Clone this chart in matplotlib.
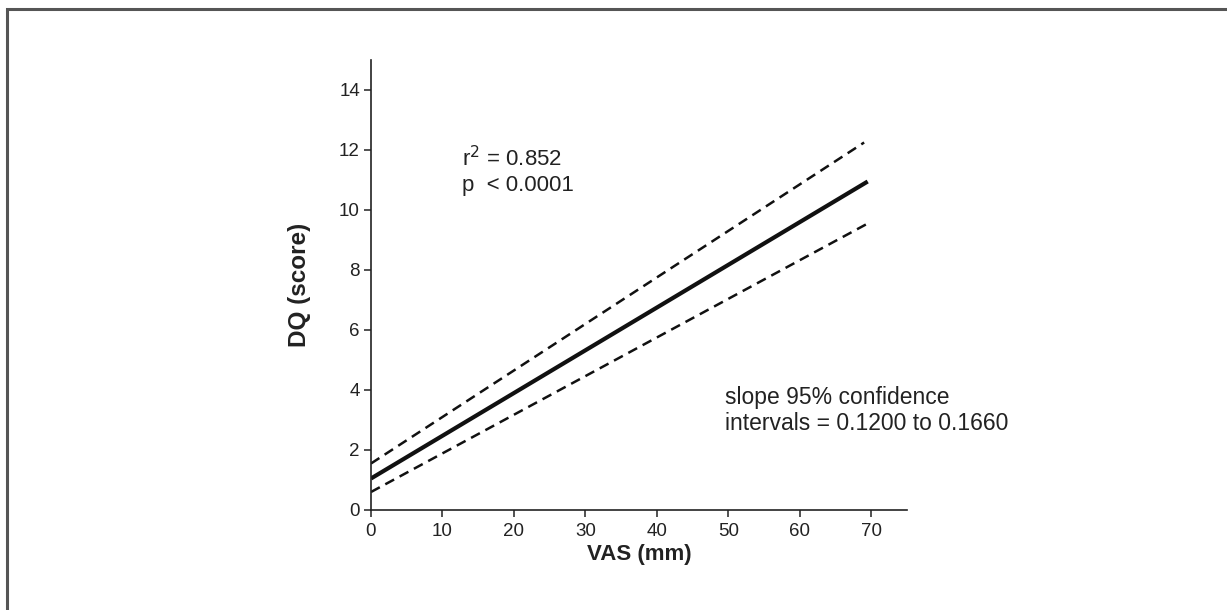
import matplotlib
matplotlib.use("Agg")
import matplotlib.pyplot as plt
from matplotlib.patches import Rectangle

plt.rcParams['font.family'] = ['Liberation Sans', 'DejaVu Sans']

# Data
fit_x = [0, 69.5]
fit_y = [1.05, 10.95]
upper_x = [0, 69.0]
upper_y = [1.55, 12.25]
lower_x = [0, 69.5]
lower_y = [0.6, 9.55]
x_ticks = [0, 10, 20, 30, 40, 50, 60, 70]
y_ticks = [0, 2, 4, 6, 8, 10, 12, 14]

fig = plt.figure(figsize=(12.27, 6.10), dpi=100)
# outer frame
fig.patches.append(Rectangle((7/1227, -0.05), 1.1, (610-9)/610 + 0.05, transform=fig.transFigure,
                             fill=False, edgecolor='#555555', linewidth=2.2))

ax = fig.add_axes([371/1227, 100/610, (907-371)/1227, (510-60)/610])
ax.plot(fit_x, fit_y, color='#111111', linewidth=3.0, solid_capstyle='butt')
ax.plot(upper_x, upper_y, color='#111111', linewidth=1.8, dashes=(4, 2.5))
ax.plot(lower_x, lower_y, color='#111111', linewidth=1.8, dashes=(4, 2.5))

ax.set_xlim(0, 75)
ax.set_ylim(0, 15)
ax.set_xticks(x_ticks)
ax.set_yticks(y_ticks)
ax.spines['top'].set_visible(False)
ax.spines['right'].set_visible(False)
for s in ['left', 'bottom']:
    ax.spines[s].set_linewidth(1.2)
    ax.spines[s].set_color('#222222')
ax.tick_params(direction='out', length=5, width=1.1, labelsize=13.5, colors='#222222')
ax.tick_params(axis='x', pad=4)
ax.tick_params(axis='y', pad=3)
ax.set_xlabel('VAS (mm)', fontsize=16, fontweight='bold', labelpad=3, color='#222222')
ax.set_ylabel('DQ (score)', fontsize=17.5, fontweight='bold', labelpad=20, color='#222222')

ax.text(12.8, 11.72, r'r$^2$ = 0.852', fontsize=16, color='#222222', va='center')
ax.text(12.8, 10.8, 'p  < 0.0001', fontsize=16, color='#222222', va='center')
ax.text(49.6, 3.75, 'slope 95% confidence', fontsize=16.5, color='#222222', va='center')
ax.text(49.6, 2.9, 'intervals = 0.1200 to 0.1660', fontsize=16.5, color='#222222', va='center')

fig.savefig('out.png', dpi=100)
